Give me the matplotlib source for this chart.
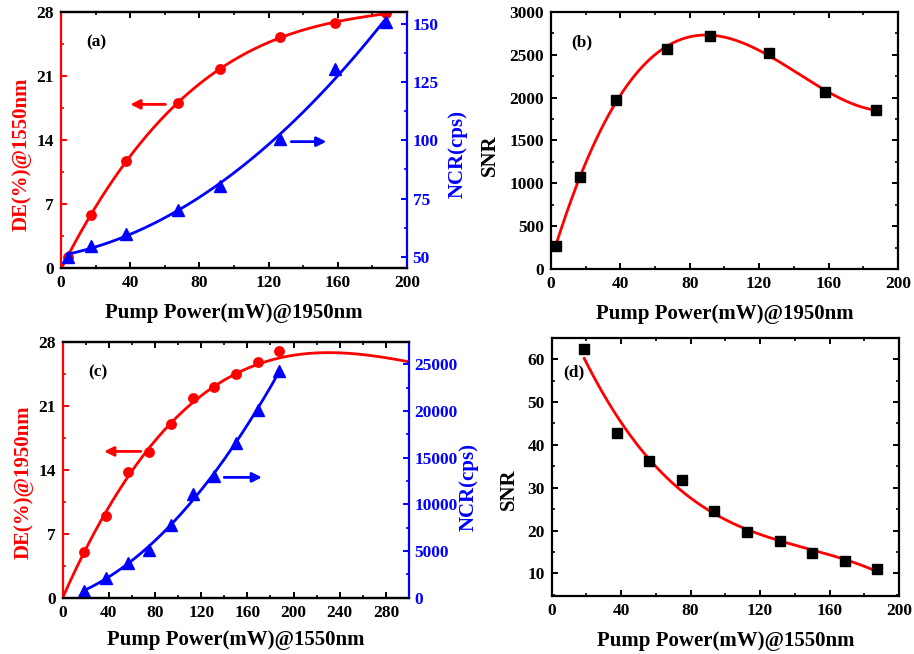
import numpy as np
import matplotlib
matplotlib.use("Agg")
import matplotlib.pyplot as plt
from matplotlib.ticker import MultipleLocator

plt.rcParams['font.family'] = ['Liberation Serif', 'DejaVu Serif']
plt.rcParams['font.weight'] = 'bold'
plt.rcParams['axes.linewidth'] = 1.6

RED = '#ff0000'
BLUE = '#0000ff'

# (a) pumped at 1950 nm, detection at 1550 nm
pa_power = [3.8, 17.3, 37.8, 67.6, 92.1, 126.5, 158.3, 188.0]
pa_de = [1.25, 5.85, 11.75, 18.0, 21.8, 25.3, 26.8, 27.85]
pa_ncr = [50, 54.7, 60, 70, 80.3, 100.4, 130.5, 150.6]

# (b) SNR vs 1950 nm pump power
pb_power = [2.7, 16.7, 37.5, 66.7, 91.9, 125.8, 157.7, 187.5]
pb_snr = [265, 1074, 1969, 2572, 2724, 2521, 2066, 1860]

# (c) pumped at 1550 nm, detection at 1950 nm
pc_power = [18.75, 37.5, 56.25, 75.0, 93.75, 112.5, 131.25, 150.0, 168.75, 187.5]
pc_de = [4.96, 8.97, 13.78, 15.97, 19.0, 21.8, 23.0, 24.5, 25.8, 27.0]
pc_ncr = [750, 2143, 3750, 5071, 7800, 11071, 13071, 16607, 20071, 24321]
# cubic DE model through the origin: a*P + b*P^2 + c*P^3
pc_de_fit = [0.2851, -9.60e-4, 9.877e-7]

# (d) SNR vs 1550 nm pump power
pd_power = [18.75, 37.5, 56.25, 75.0, 93.75, 112.5, 131.25, 150.0, 168.75, 187.5]
pd_snr = [62.3, 42.7, 36.3, 31.9, 24.6, 19.7, 17.6, 14.7, 12.9, 11.0]

TICK_FS = 12.5
LABEL_FS = 15
MS_DOT = 6.8
MS_TRI = 8


def style_axis(ax, left_color='black', right=True):
    ax.tick_params(which='both', direction='in', top=True, right=right,
                   labelsize=TICK_FS, pad=5)
    ax.tick_params(which='major', length=4.5, width=1.4)
    ax.tick_params(which='minor', length=2.5, width=1.2)
    if left_color != 'black':
        ax.spines['left'].set_color(left_color)
        ax.tick_params(axis='y', which='both', colors=left_color, labelcolor='black')


def style_twin(tw):
    tw.tick_params(which='both', direction='in', labelsize=TICK_FS, colors=BLUE, pad=4)
    tw.tick_params(which='major', length=4.5, width=1.4)
    tw.tick_params(which='minor', length=2.5, width=1.2)
    tw.spines['right'].set_color(BLUE)
    tw.spines['left'].set_visible(False)


def smooth(x, y, deg, lo, hi):
    xs = np.linspace(lo, hi, 300)
    ys = np.polyval(np.polyfit(np.asarray(x, float), np.asarray(y, float), deg), xs)
    return xs, ys


fig = plt.figure(figsize=(9.14, 6.54), dpi=100)

# ---------- (a) ----------
ax = fig.add_axes([0.0667, 0.5902, 0.3786, 0.3914])
tw = ax.twinx()
xs, ys = smooth(pa_power, pa_de, 3, 0, 190)
ax.plot(xs, ys, color=RED, lw=2)
ax.plot(pa_power, pa_de, 'o', color=RED, ms=MS_DOT)
xs, ys = smooth(pa_power, pa_ncr, 2, pa_power[0], pa_power[-1])
tw.plot(xs, ys, color=BLUE, lw=2)
tw.plot(pa_power, pa_ncr, '^', color=BLUE, ms=MS_TRI)
ax.set_xlim(0, 200)
ax.set_ylim(0, 28)
tw.set_ylim(45.2, 155)
ax.xaxis.set_major_locator(MultipleLocator(40))
ax.xaxis.set_minor_locator(MultipleLocator(20))
ax.yaxis.set_major_locator(MultipleLocator(7))
ax.yaxis.set_minor_locator(MultipleLocator(3.5))
tw.yaxis.set_major_locator(MultipleLocator(25))
tw.yaxis.set_minor_locator(MultipleLocator(12.5))
style_axis(ax, RED, right=False)
style_twin(tw)
ax.spines['right'].set_visible(False)
ax.set_xlabel('Pump Power(mW)@1950nm', fontsize=LABEL_FS, fontweight='bold', labelpad=9)
ax.set_ylabel('DE(%)@1550nm', fontsize=LABEL_FS, fontweight='bold', color=RED)
ax.yaxis.set_label_coords(-0.086, 0.445)
tw.set_ylabel('NCR(cps)', fontsize=LABEL_FS, fontweight='bold', color=BLUE)
tw.yaxis.set_label_coords(1.118, 0.445)
ax.text(20.5, 24.7, '(a)', fontsize=12.5, fontweight='bold', ha='center', va='center')
ax.annotate('', xy=(38.5, 17.9), xytext=(62, 17.9),
            arrowprops=dict(arrowstyle='-|>', color=RED, lw=2, mutation_scale=14))
tw.annotate('', xy=(155, 99.4), xytext=(131.5, 99.4),
            arrowprops=dict(arrowstyle='-|>', color=BLUE, lw=2, mutation_scale=14))

# ---------- (b) ----------
ax = fig.add_axes([0.6028, 0.5887, 0.3796, 0.393])
xs, ys = smooth(pb_power, pb_snr, 4, pb_power[0], pb_power[-1])
ax.plot(xs, ys, color=RED, lw=2)
ax.plot(pb_power, pb_snr, 's', color='black', ms=MS_DOT)
ax.set_xlim(0, 200)
ax.set_ylim(0, 3000)
ax.xaxis.set_major_locator(MultipleLocator(40))
ax.xaxis.set_minor_locator(MultipleLocator(20))
ax.yaxis.set_major_locator(MultipleLocator(500))
ax.yaxis.set_minor_locator(MultipleLocator(250))
style_axis(ax)
ax.set_xlabel('Pump Power(mW)@1950nm', fontsize=LABEL_FS, fontweight='bold', labelpad=9)
ax.set_ylabel('SNR', fontsize=LABEL_FS, fontweight='bold')
ax.yaxis.set_label_coords(-0.148, 0.444)
ax.text(17.9, 2650, '(b)', fontsize=12.5, fontweight='bold', ha='center', va='center')

# ---------- (c) ----------
ax = fig.add_axes([0.0686, 0.0861, 0.3789, 0.3914])
tw = ax.twinx()
xs = np.linspace(0, 300, 300)
ys = sum(c * xs ** (k + 1) for k, c in enumerate(pc_de_fit))
ax.plot(xs, ys, color=RED, lw=2)
ax.plot(pc_power, pc_de, 'o', color=RED, ms=MS_DOT)
xs, ys = smooth(pc_power, pc_ncr, 2, pc_power[0], pc_power[-1])
tw.plot(xs, ys, color=BLUE, lw=2)
tw.plot(pc_power, pc_ncr, '^', color=BLUE, ms=MS_TRI)
ax.set_xlim(0, 300)
ax.set_ylim(0, 28)
tw.set_ylim(0, 27430)
ax.xaxis.set_major_locator(MultipleLocator(40))
ax.xaxis.set_minor_locator(MultipleLocator(20))
ax.yaxis.set_major_locator(MultipleLocator(7))
ax.yaxis.set_minor_locator(MultipleLocator(3.5))
tw.yaxis.set_major_locator(MultipleLocator(5000))
tw.yaxis.set_minor_locator(MultipleLocator(2500))
style_axis(ax, RED, right=False)
style_twin(tw)
ax.spines['right'].set_visible(False)
ax.set_xlabel('Pump Power(mW)@1550nm', fontsize=LABEL_FS, fontweight='bold', labelpad=7)
ax.set_ylabel('DE(%)@1950nm', fontsize=LABEL_FS, fontweight='bold', color=RED)
ax.yaxis.set_label_coords(-0.083, 0.452)
tw.set_ylabel('NCR(cps)', fontsize=LABEL_FS, fontweight='bold', color=BLUE)
tw.yaxis.set_label_coords(1.144, 0.432)
ax.text(30.3, 24.6, '(c)', fontsize=12.5, fontweight='bold', ha='center', va='center')
ax.annotate('', xy=(33.5, 16.0), xytext=(70, 16.0),
            arrowprops=dict(arrowstyle='-|>', color=RED, lw=2, mutation_scale=14))
tw.annotate('', xy=(175, 12893), xytext=(137.5, 12893),
            arrowprops=dict(arrowstyle='-|>', color=BLUE, lw=2, mutation_scale=14))

# ---------- (d) ----------
ax = fig.add_axes([0.6036, 0.0891, 0.38, 0.3945])
xs, ys = smooth(pd_power, pd_snr, 3, pd_power[0], pd_power[-1])
ax.plot(xs, ys, color=RED, lw=2)
ax.plot(pd_power, pd_snr, 's', color='black', ms=MS_DOT)
ax.set_xlim(0, 200)
ax.set_ylim(4.8, 65)
ax.xaxis.set_major_locator(MultipleLocator(40))
ax.xaxis.set_minor_locator(MultipleLocator(20))
ax.yaxis.set_major_locator(MultipleLocator(10))
ax.yaxis.set_minor_locator(MultipleLocator(5))
style_axis(ax)
ax.set_xlabel('Pump Power(mW)@1550nm', fontsize=LABEL_FS, fontweight='bold', labelpad=9)
ax.set_ylabel('SNR', fontsize=LABEL_FS, fontweight='bold')
ax.yaxis.set_label_coords(-0.094, 0.414)
ax.text(12.5, 56.9, '(d)', fontsize=12.5, fontweight='bold', ha='center', va='center')

fig.savefig('out.png', dpi=100)
